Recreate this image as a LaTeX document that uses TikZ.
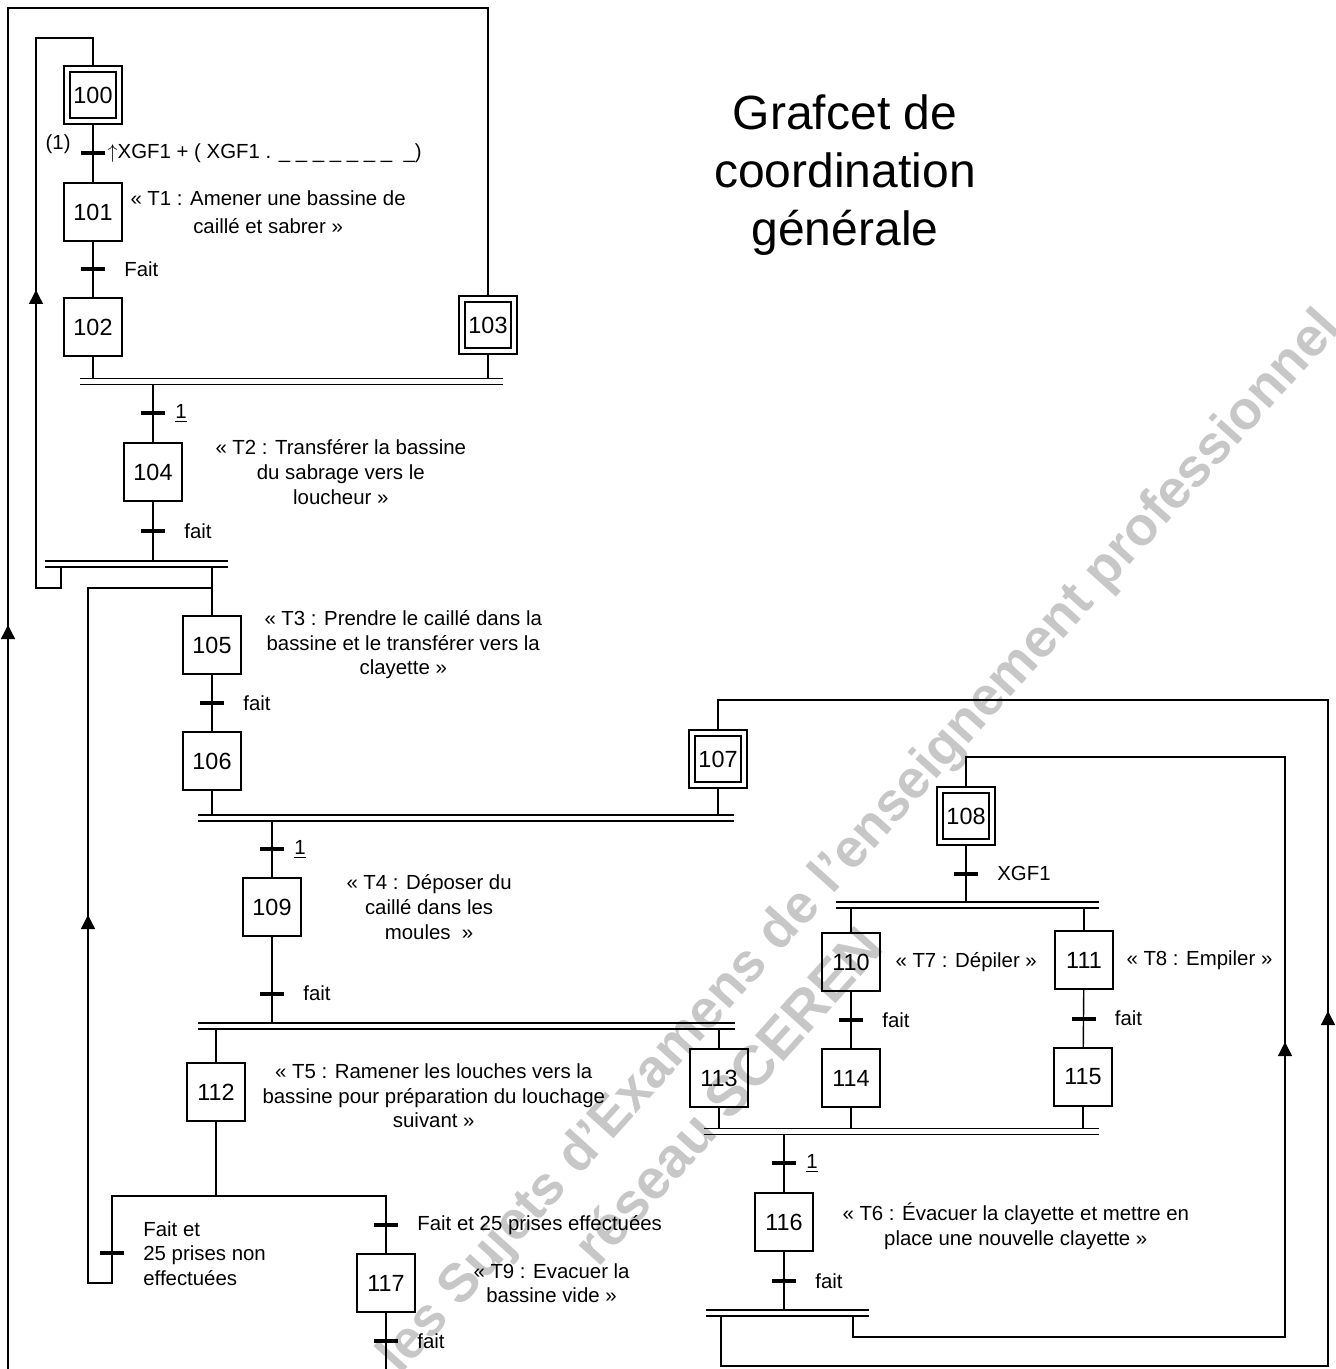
\documentclass[tikz,border=0pt]{standalone}
\usepackage{fontspec}
\setmainfont{Liberation Sans}
\usetikzlibrary{positioning,arrows.meta,decorations.markings}
\tikzset{etape/.style = {draw, line width=0.8pt, minimum size=29pt, inner sep=0pt, font=\fontsize{11.7}{14}\selectfont}}
\tikzset{etapeinit/.style = {etape, path picture={\draw[line width=0.8pt] ([shift={(3pt,3pt)}]path picture bounding box.south west) rectangle ([shift={(-3pt,-3pt)}]path picture bounding box.north east);}}}
\tikzset{trans/.style = {fill, minimum width=12pt, minimum height=2pt, inner sep=0pt, outer sep=0pt}}
\tikzset{simult/.style = {minimum height=3pt, inner sep=0pt, outer sep=0pt, append after command={(\tikzlastnode.north west) edge (\tikzlastnode.north east) (\tikzlastnode.south west) edge (\tikzlastnode.south east)}}}
\tikzset{action/.style = {align=center, inner sep=1pt, font=\fontsize{10.2}{12.3}\selectfont}}
\tikzset{titre/.style = {align=center, font=\fontsize{24}{29}\selectfont}}
\tikzset{filigrane/.style = {text=black!22, inner sep=0pt, font=\fontsize{27}{31}\selectfont\bfseries}}
\tikzset{fleche/.style = {postaction={decorate, decoration={markings, mark=at position #1 with {\arrow{Triangle[length=7pt, width=7pt]}}}}}}

\begin{document}
\begin{tikzpicture}[x=0.5pt, y=-0.5pt, line width=0.7pt, label distance=6pt, every label/.append style={font=\fontsize{10.2}{12.3}\selectfont}]
  \useasboundingbox (0,0) rectangle (1335,1369);

  \node [filigrane, rotate=48] (wm1) at (861,843) {les Sujets d'Examens de l'enseignement professionnel};
  \node [filigrane, rotate=48, font=\fontsize{28}{32}\selectfont\bfseries] (wm2) at (727,1095) {réseau SCEREN};

  \node [titre] (titre) at (845,175) {Grafcet de\\coordination\\générale};

  \node [etapeinit] (s100) at (93,95) {100};
  \node [etape] (s101) at (93,212) {101};
  \node [etape] (s102) at (93,327) {102};
  \node [etapeinit] (s103) at (488,325) {103};
  \node [etape] (s104) at (153,472) {104};
  \node [etape] (s105) at (212,645) {105};
  \node [etape] (s106) at (212,761) {106};
  \node [etapeinit] (s107) at (718,759) {107};
  \node [etapeinit] (s108) at (966,816) {108};
  \node [etape] (s109) at (272,907) {109};
  \node [etape] (s110) at (851,962) {110};
  \node [etape] (s111) at (1084,960) {111};
  \node [etape] (s112) at (216,1092) {112};
  \node [etape] (s113) at (719,1078) {113};
  \node [etape] (s114) at (851,1078) {114};
  \node [etape] (s115) at (1083,1077) {115};
  \node [etape] (s116) at (784,1222) {116};
  \node [etape] (s117) at (386,1283) {117};

  \node [action, right=2.5pt of s101, font=\fontsize{10.2}{14}\selectfont] (t1) {« T1 : Amener une bassine de\\caillé et sabrer »};
  \node [action, right=15pt of s104] (t2) {« T2 : Transférer la bassine\\du sabrage vers le\\loucheur »};
  \node [action, right=10pt of s105] (t3) {« T3 : Prendre le caillé dans la\\bassine et le transférer vers la\\clayette »};
  \node [action, right=21pt of s109] (t4) {« T4 : Déposer du\\caillé dans les\\moules~~»};
  \node [action, right=7pt of s112, yshift=-2pt] (t5) {« T5 : Ramener les louches vers la\\bassine pour préparation du louchage\\suivant »};
  \node [action, right=13pt of s116, yshift=-2pt] (t6) {« T6 : Évacuer la clayette et mettre en\\place une nouvelle clayette »};
  \node [action, right=6pt of s110] (t7) {« T7 : Dépiler »};
  \node [action, right=5pt of s111] (t8) {« T8 : Empiler »};
  \node [action, right=27.5pt of s117] (t9) {« T9 : Evacuer la\\bassine vide »};

  \node [simult, minimum width=211.5pt] (syncA) at (291.5,381.5) {};
  \node [simult, minimum width=91.5pt] (syncB) at (136.5,564) {};
  \node [simult, minimum width=268pt] (syncC) at (466,818) {};
  \node [simult, minimum width=131.5pt] (syncD) at (967.5,905) {};
  \node [simult, minimum width=268.5pt] (syncE) at (466.5,1026) {};
  \node [simult, minimum width=197.5pt] (syncF) at (901.5,1131.5) {};
  \node [simult, minimum width=81.5pt] (syncG) at (787.5,1313) {};

  \coordinate (top0) at (8,8);
  \coordinate (outA) at (8,1369);
  \coordinate (top1) at (36,38);
  \coordinate (l1) at (36,588);
  \coordinate (ou1) at (216,1196);
  \coordinate (r1) at (112,1283);
  \coordinate (r2) at (88,588);
  \coordinate (outB) at (386,1369);
  \coordinate (bA) at (1328,1366);
  \coordinate (hA) at (1328,700);
  \coordinate (bB) at (1285,1337);
  \coordinate (hB) at (1285,757);

  \draw (s100) -- node [trans, label={[yshift=4.5pt, label distance=1.5pt]left:(1)}, label={[label distance=0pt, inner sep=1pt]right:$\uparrow$XGF1 + ( XGF1 . \_ \_ \_ \_ \_ \_ \_\ \ \_)}] {} (s101);
  \draw (s101) -- node [trans, label=right:Fait] {} (s102);
  \draw (s102) -- (s102 |- syncA.north);
  \draw (s103) -- (s103 |- syncA.north);
  \draw [fleche=372pt] (outA) -- (top0) -| (s103);

  \draw (s104 |- syncA.south) -- node [trans, label={[label distance=1.5pt]right:\underline{1}}] {} (s104);
  \draw (s104) -- node [trans, label=right:fait] {} (s104 |- syncB.north);
  \draw (s105 |- syncB.south) -- (s105);
  \draw [fleche=172pt] ([xshift=8pt]syncB.south west) |- (l1) -- (top1) -| (s100);

  \draw (s105) -- node [trans, label=right:fait] {} (s106);
  \draw (s106) -- (s106 |- syncC.north);
  \draw (s107) -- (s107 |- syncC.north);
  \draw (s109 |- syncC.south) -- node [trans, label={[label distance=1.5pt]right:\underline{1}}] {} (s109);
  \draw (s109) -- node [trans, pos=0.66, label=right:fait] {} (s109 |- syncE.north);
  \draw (s112 |- syncE.south) -- (s112);
  \draw (s113 |- syncE.south) -- (s113);

  \draw (s112) -- (ou1);
  \draw (ou1) -| node [trans, pos=0.75, label=right:Fait et 25 prises effectuées] {} (s117);
  \draw [fleche=291.5pt] (ou1) -| node [trans, pos=0.83, label={[align=left]right:Fait et\\25 prises non\\effectuées}] {} (r1) -| (r2) -- (s105 |- r2);
  \draw (s117) -- node [trans, label=right:fait] {} (outB);

  \draw (s108) -- node [trans, label=right:XGF1] {} (s108 |- syncD.north);
  \draw (s110 |- syncD.south) -- (s110);
  \draw (s111 |- syncD.south) -- (s111);
  \draw (s110) -- node [trans, label=right:fait] {} (s114);
  \draw (s111) -- node [trans, label=right:fait] {} (s115);
  \draw (s113) -- (s113 |- syncF.north);
  \draw (s114) -- (s114 |- syncF.north);
  \draw (s115) -- (s115 |- syncF.north);
  \draw (s116 |- syncF.south) -- node [trans, label={[label distance=1.5pt]right:\underline{1}}] {} (s116);
  \draw (s116) -- node [trans, label=right:fait] {} (s116 |- syncG.north);
  \draw [fleche=506pt] ([xshift=7.5pt]syncG.south west) |- (bA) -- (hA) -| (s107);
  \draw [fleche=374pt] ([xshift=73.5pt]syncG.south west) |- (bB) -- (hB) -| (s108);
\end{tikzpicture}
\end{document}
